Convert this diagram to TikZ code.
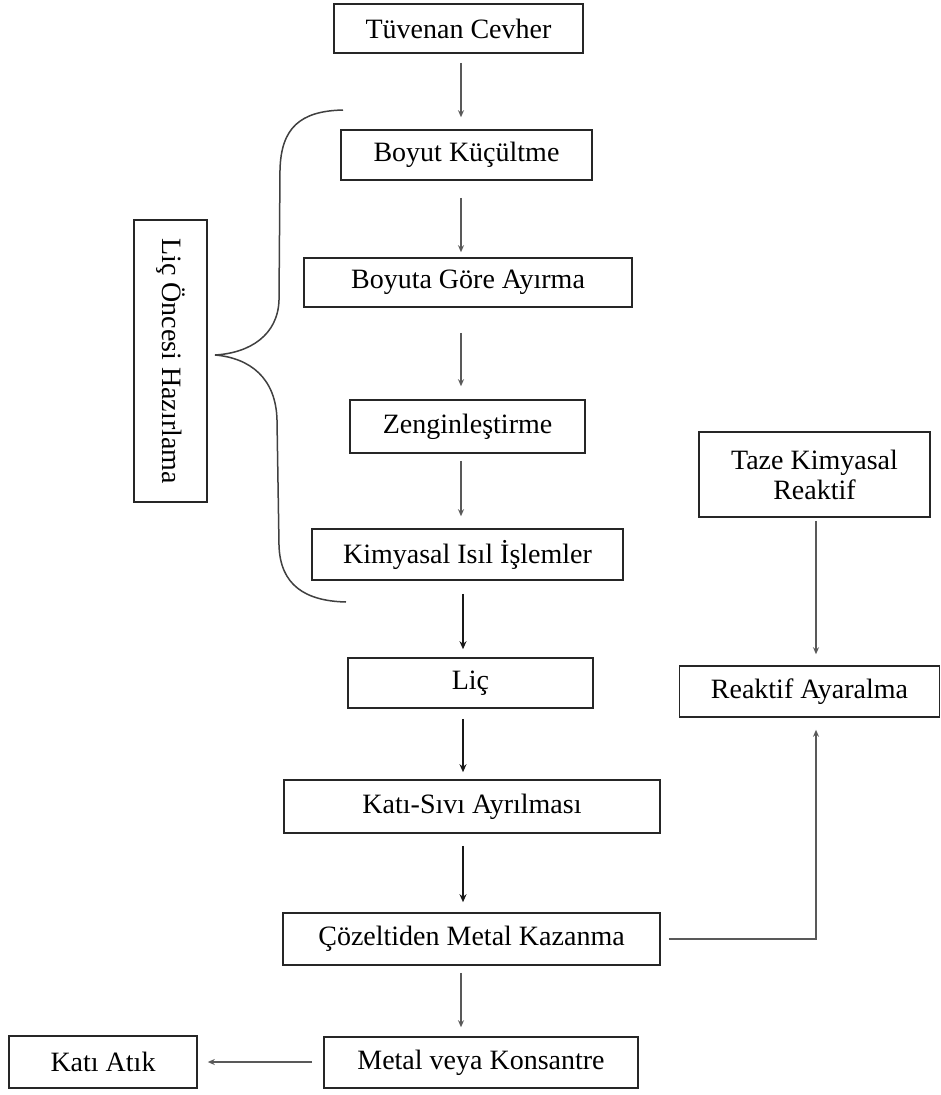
\documentclass[tikz,border=0pt]{standalone}
\usepackage{fontspec}
\setmainfont{Liberation Serif}
\usetikzlibrary{arrows.meta}
\begin{document}
\begin{tikzpicture}[x=1pt,y=-1pt,
  box/.style={draw=black!85,line width=1.6pt,inner sep=0pt,align=center,
    font=\fontsize{28}{30}\selectfont},
  thinarr/.style={draw=black!65,line width=1.1pt,-{Stealth[length=7pt,width=6pt]}},
  thickarr/.style={draw=black!90,line width=1.8pt,-{Stealth[length=8pt,width=7pt]}},
  bracestyle/.style={draw=black!75,line width=1.5pt}]
\useasboundingbox[fill=white] (0,0) rectangle (941,1095);

\node[box,minimum width=249pt,minimum height=49pt] (tuv) at (458.5,28.5) {Tüvenan Cevher};
\node[box,minimum width=251pt,minimum height=50pt] (boy) at (466.5,155) {Boyut Küçültme};
\node[box,minimum width=328pt,minimum height=49pt] (ayr) at (468,282.5) {Boyuta Göre Ayırma};
\node[box,minimum width=235pt,minimum height=53pt] (zen) at (467.5,426.5) {Zenginleştirme};
\node[box,minimum width=311pt,minimum height=51pt] (kim) at (467.5,554.5) {Kimyasal Isıl İşlemler};
\node[box,minimum width=245pt,minimum height=50pt] (lic) at (470.5,683) {Liç};
\node[box,minimum width=376pt,minimum height=53pt] (kss) at (472,806.5) {Katı-Sıvı Ayrılması};
\node[box,minimum width=377pt,minimum height=52pt] (coz) at (471.5,939) {Çözeltiden Metal Kazanma};
\node[box,minimum width=314pt,minimum height=51pt] (met) at (481,1062.5) {Metal veya Konsantre};
\node[box,minimum width=188pt,minimum height=52pt] (atik) at (103,1062) {Katı Atık};
\node[box,minimum width=231pt,minimum height=85pt] (taze) at (814.5,474.5) {Taze Kimyasal\\Reaktif};
\node[box,minimum width=260pt,minimum height=51pt] (rea) at (809.5,691.5) {Reaktif Ayaralma};
\node[box,minimum width=73pt,minimum height=282pt] (side) at (170.5,361) {};
\node[font=\fontsize{28}{30}\selectfont,rotate=-90,inner sep=0pt] (sidetxt) at (side.center) {Liç Öncesi Hazırlama};

\coordinate (sp) at (461,0);
\coordinate (sq) at (463,0);
\coordinate (rx) at (816,0);

\draw[thinarr,shorten <=9pt,shorten >=12pt] (sp |- tuv.south) -- (sp |- boy.north);
\draw[thinarr,shorten <=17pt,shorten >=5pt] (sp |- boy.south) -- (sp |- ayr.north);
\draw[thinarr,shorten <=25pt,shorten >=13pt] (sp |- ayr.south) -- (sp |- zen.north);
\draw[thinarr,shorten <=7pt,shorten >=12pt] (sp |- zen.south) -- (sp |- kim.north);
\draw[thickarr,shorten <=13pt,shorten >=8pt] (sq |- kim.south) -- (sq |- lic.north);
\draw[thickarr,shorten <=10pt,shorten >=7pt] (sq |- lic.south) -- (sq |- kss.north);
\draw[thickarr,shorten <=12pt,shorten >=10pt] (sq |- kss.south) -- (sq |- coz.north);
\draw[thinarr,shorten <=7pt,shorten >=9pt] (sp |- coz.south) -- (sp |- met.north);
\draw[thinarr,line width=1.4pt,shorten <=11pt,shorten >=10pt] (met.west |- atik.east) -- (atik.east);
\draw[thinarr,shorten <=3pt,shorten >=11pt] (rx |- taze.south) -- (rx |- rea.north);
\draw[thinarr,line width=1.5pt,shorten <=8pt,shorten >=12pt] (coz.east) -| (rx |- rea.south);

\draw[bracestyle] (343,110) .. controls (300,111) and (281,128) .. (280,170)
  -- (279,300) .. controls (278,335) and (250,353) .. (215,355)
  .. controls (250,358) and (276,378) .. (277,420)
  -- (279,545) .. controls (280,585) and (305,601) .. (346,602);
\end{tikzpicture}
\end{document}
